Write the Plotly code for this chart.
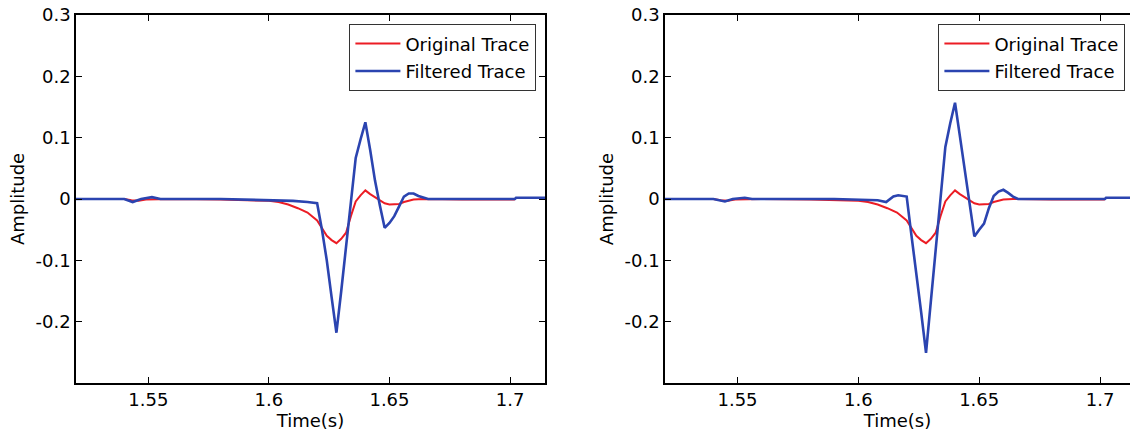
import plotly.graph_objects as go

# ---------------- data ----------------
time_orig = [1.520, 1.540, 1.543, 1.546, 1.549, 1.560, 1.580, 1.590, 1.600, 1.604,
             1.608, 1.612, 1.616, 1.620, 1.622, 1.624, 1.626, 1.628, 1.630, 1.632,
             1.634, 1.636, 1.638, 1.640, 1.642, 1.644, 1.646, 1.648, 1.650, 1.652,
             1.654, 1.656, 1.658, 1.660, 1.664, 1.680, 1.702]
amp_orig = [0.0, 0.0, -0.002, -0.003, -0.001, 0.0, -0.001, -0.002, -0.003, -0.005,
            -0.009, -0.015, -0.022, -0.035, -0.047, -0.060, -0.067, -0.072, -0.065, -0.055,
            -0.028, -0.004, 0.006, 0.014, 0.008, 0.003, -0.003, -0.007, -0.009, -0.009,
            -0.008, -0.005, -0.003, -0.001, 0.0, -0.001, -0.001]

time_filt_left = [1.520, 1.540, 1.5435, 1.547, 1.5515, 1.555, 1.580, 1.590, 1.600, 1.610,
                  1.616, 1.620, 1.622, 1.624, 1.626, 1.628, 1.630, 1.632, 1.634, 1.636,
                  1.638, 1.640, 1.642, 1.644, 1.646, 1.648, 1.650, 1.652, 1.654, 1.656,
                  1.658, 1.660, 1.662, 1.664, 1.666, 1.702, 1.7025, 1.7145]
amp_filt_left = [0.0, 0.0, -0.005, 0.0, 0.003, 0.0, 0.0, -0.001, -0.002, -0.003,
                 -0.005, -0.007, -0.050, -0.100, -0.160, -0.218, -0.150, -0.080, -0.005, 0.067,
                 0.097, 0.125, 0.080, 0.030, -0.010, -0.047, -0.039, -0.028, -0.012, 0.004,
                 0.009, 0.009, 0.005, 0.002, 0.0, 0.0, 0.002, 0.002]

time_filt_right = [1.520, 1.540, 1.5448, 1.548, 1.553, 1.556, 1.590, 1.600, 1.608, 1.6115,
                   1.6145, 1.6165, 1.620, 1.622, 1.624, 1.626, 1.628, 1.630, 1.632, 1.634,
                   1.636, 1.638, 1.640, 1.642, 1.644, 1.646, 1.648, 1.650, 1.652, 1.654,
                   1.656, 1.658, 1.660, 1.662, 1.664, 1.666, 1.702, 1.7025, 1.7124]
amp_filt_right = [0.0, 0.0, -0.004, 0.0, 0.002, 0.0, 0.0, -0.001, -0.002, -0.005,
                  0.004, 0.006, 0.004, -0.060, -0.120, -0.185, -0.251, -0.167, -0.083, 0.0,
                  0.085, 0.123, 0.157, 0.103, 0.049, -0.006, -0.061, -0.050, -0.040, -0.015,
                  0.005, 0.012, 0.015, 0.010, 0.004, 0.0, 0.0, 0.002, 0.002]

x_ticks = [1.55, 1.6, 1.65, 1.7]
x_tick_labels = ["1.55", "1.6", "1.65", "1.7"]
y_ticks = [-0.2, -0.1, 0.0, 0.1, 0.2, 0.3]
y_tick_labels = ["-0.2", "-0.1", "0", "0.1", "0.2", "0.3"]

names = ["Original Trace", "Filtered Trace"]

# ---------------- styles ----------------
RED = "#ec1c24"
BLUE = "#2b44b0"
FONT = "DejaVu Sans"
FS = 18

fig = go.Figure()

# left panel
fig.add_trace(go.Scatter(x=time_orig, y=amp_orig, mode="lines", name=names[0],
                         line=dict(color=RED, width=2), xaxis="x", yaxis="y",
                         legend="legend", legendgroup="a1"))
fig.add_trace(go.Scatter(x=time_filt_left, y=amp_filt_left, mode="lines", name=names[1],
                         line=dict(color=BLUE, width=2.6), xaxis="x", yaxis="y",
                         legend="legend", legendgroup="a2"))
# right panel
fig.add_trace(go.Scatter(x=time_orig, y=amp_orig, mode="lines", name=names[0],
                         line=dict(color=RED, width=2), xaxis="x2", yaxis="y2",
                         legend="legend2", legendgroup="b1"))
fig.add_trace(go.Scatter(x=time_filt_right, y=amp_filt_right, mode="lines", name=names[1],
                         line=dict(color=BLUE, width=2.6), xaxis="x2", yaxis="y2",
                         legend="legend2", legendgroup="b2"))

W, H = 1130, 437

axis_common = dict(showline=True, linecolor="black", linewidth=1.6, ticks="inside",
                   ticklen=6, tickwidth=1.4, tickcolor="black", showgrid=False,
                   zeroline=False, tickfont=dict(family=FONT, size=FS, color="black"))

x_common = dict(axis_common, tickvals=x_ticks, ticktext=x_tick_labels,
                title=dict(text="Time(s)", font=dict(family=FONT, size=FS, color="black"),
                           standoff=3))
y_common = dict(axis_common, tickvals=y_ticks, ticktext=y_tick_labels, range=[-0.3, 0.3],
                title=dict(text="Amplitude", font=dict(family=FONT, size=FS, color="black"),
                           standoff=6))

legend_common = dict(yanchor="top", xanchor="left", y=0.9755, bgcolor="white",
                     bordercolor="#333333", borderwidth=1.4,
                     font=dict(family=FONT, size=FS, color="black"),
                     tracegroupgap=1, itemwidth=45)

fig.update_layout(
    width=W, height=H,
    margin=dict(l=0, r=0, t=15, b=54),
    paper_bgcolor="white", plot_bgcolor="white",
    font=dict(family=FONT, size=FS, color="black"),
    xaxis=dict(x_common, domain=[76 / W, 545 / W], range=[1.52, 1.7145],
               anchor="y", mirror="ticks"),
    yaxis=dict(y_common, domain=[0, 1], anchor="x", mirror="ticks"),
    xaxis2=dict(x_common, domain=[665 / W, 1.0], range=[1.52, 1.7124],
                anchor="y2", mirror="ticks"),
    yaxis2=dict(y_common, domain=[0, 1], anchor="x2", mirror=False),
    legend=dict(legend_common, x=349 / W),
    legend2=dict(legend_common, x=938 / W),
    showlegend=True,
)

fig.write_html("out.html")
